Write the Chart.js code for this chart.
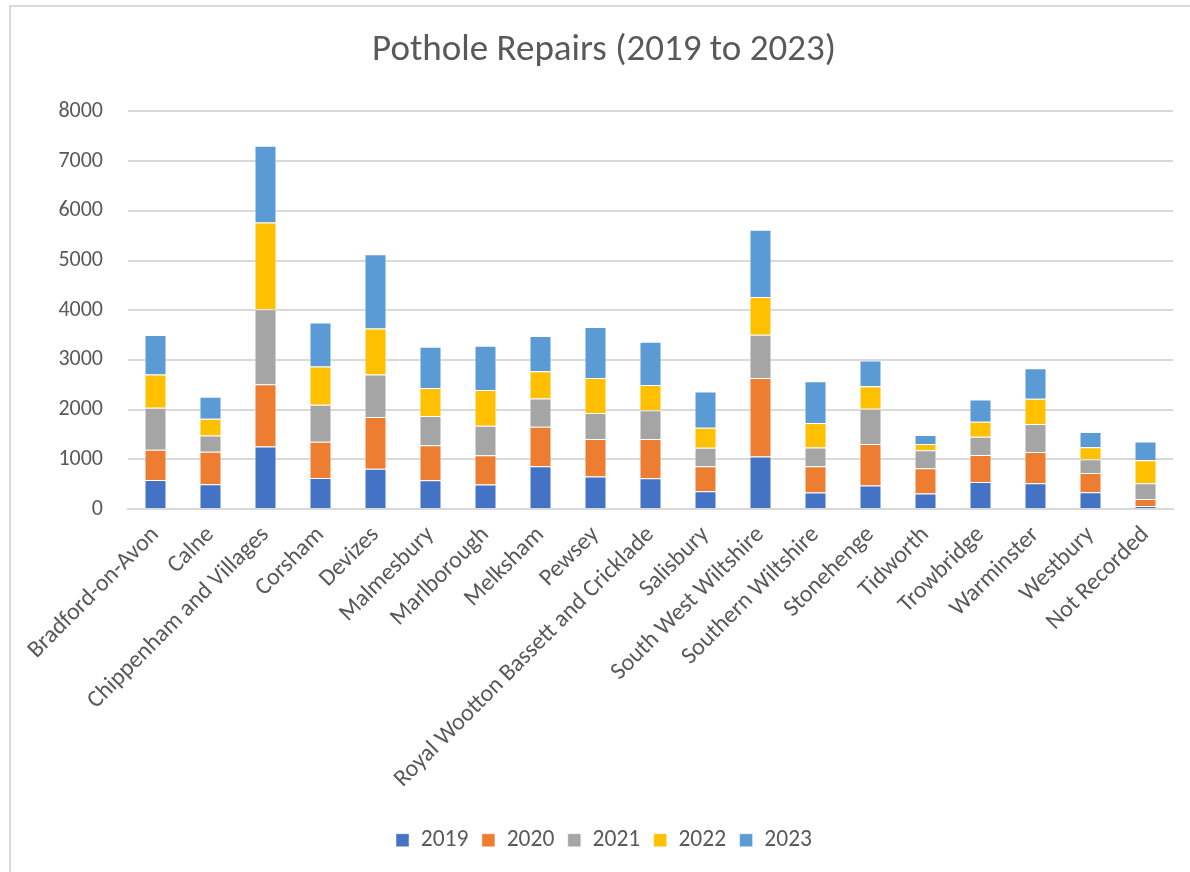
<!DOCTYPE html>
<html>
<head>
<meta charset="utf-8">
<title>Pothole Repairs (2019 to 2023)</title>
<script src="https://cdn.jsdelivr.net/npm/chart.js@4"></script>
<style>
  html, body { margin: 0; padding: 0; background: #fff; overflow: hidden; }
  .frame { position: absolute; left: 9px; top: 5px; width: 1300px; height: 1000px; border: 2px solid #d9d9d9; }
  .wrap { position: absolute; left: 0; top: 0; width: 1190px; height: 872px; }
</style>
</head>
<body>
<div class="frame"></div>
<div class="wrap"><canvas id="chart"></canvas></div>
<script>
const areas = [
  "Bradford-on-Avon", "Calne", "Chippenham and Villages", "Corsham", "Devizes",
  "Malmesbury", "Marlborough", "Melksham", "Pewsey", "Royal Wootton Bassett and Cricklade",
  "Salisbury", "South West Wiltshire", "Southern Wiltshire", "Stonehenge", "Tidworth",
  "Trowbridge", "Warminster", "Westbury", "Not Recorded"
];
const repairs2019 = [585, 498, 1258, 626, 808, 579, 491, 861, 653, 619, 357, 1057, 330, 471, 310, 541, 520, 338, 61];
const repairs2020 = [606, 653, 1252, 727, 1043, 706, 592, 794, 753, 787, 504, 1581, 531, 835, 511, 547, 629, 385, 142];
const repairs2021 = [848, 329, 1507, 747, 854, 586, 593, 566, 525, 579, 370, 868, 377, 713, 363, 365, 560, 277, 317];
const repairs2022 = [666, 337, 1750, 767, 929, 565, 720, 552, 707, 512, 404, 760, 491, 451, 122, 304, 507, 243, 460];
const repairs2023 = [794, 444, 1541, 888, 1494, 828, 888, 706, 1023, 868, 727, 1353, 842, 518, 181, 446, 615, 304, 378];
const yTicks = [0, 1000, 2000, 3000, 4000, 5000, 6000, 7000, 8000];

const font = "Carlito, Lato, sans-serif";
const textColor = "#595959";

const bar = (label, data, color) => ({
  label: label,
  data: data,
  backgroundColor: color,
  borderColor: "rgba(255,255,255,0.45)",
  borderWidth: 1,
  categoryPercentage: 0.4,
  barPercentage: 1,
});

const ctx = document.getElementById("chart").getContext("2d");
new Chart(ctx, {
  type: "bar",
  data: {
    labels: areas,
    datasets: [
      bar("2019", repairs2019, "#4472C4"),
      bar("2020", repairs2020, "#ED7D31"),
      bar("2021", repairs2021, "#A5A5A5"),
      bar("2022", repairs2022, "#FFC000"),
      bar("2023", repairs2023, "#5B9BD5"),
    ],
  },
  options: {
    responsive: true,
    maintainAspectRatio: false,
    animation: false,
    layout: { padding: { left: 35, right: 17, top: 0, bottom: 10 } },
    plugins: {
      title: {
        display: true,
        text: "Pothole Repairs (2019 to 2023)",
        color: textColor,
        font: { family: font, size: 37, weight: "normal" },
        padding: { top: 29, bottom: 38 },
      },
      legend: {
        position: "bottom",
        labels: {
          color: textColor,
          font: { family: font, size: 23.5 },
          boxWidth: 13,
          boxHeight: 13,
          padding: 13.5,
        },
      },
      tooltip: { enabled: false },
    },
    scales: {
      x: {
        stacked: true,
        grid: { display: false },
        border: { color: "#d9d9d9", width: 2 },
        ticks: {
          color: textColor,
          font: { family: font, size: 24 },
          maxRotation: 45,
          minRotation: 45,
          autoSkip: false,
          padding: 4,
        },
        afterFit: (scale) => { scale.height = 306; },
      },
      y: {
        stacked: true,
        min: 0,
        max: 8000,
        afterBuildTicks: (scale) => { scale.ticks = yTicks.map((v) => ({ value: v })); },
        grid: { color: "#d9d9d9", lineWidth: 2, drawTicks: false },
        border: { display: false },
        ticks: {
          color: textColor,
          font: { family: font, size: 22 },
          padding: 25,
          callback: (v) => String(v),
        },
        afterFit: (scale) => { scale.width = 93; },
      },
    },
  },
});
</script>
</body>
</html>
